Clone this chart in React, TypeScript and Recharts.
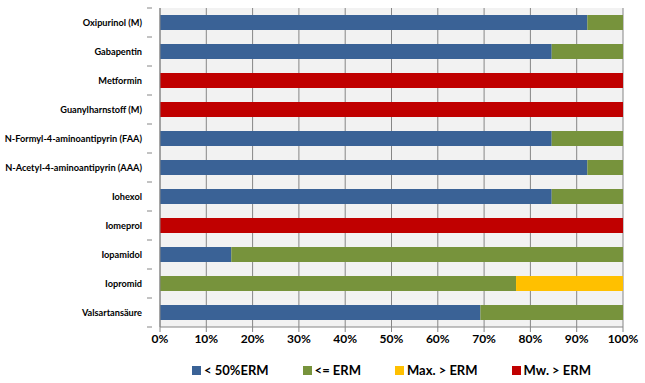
import React from 'react';
import { BarChart, Bar, XAxis, YAxis, CartesianGrid, Legend } from 'recharts';

const categories = [
  'Oxipurinol (M)',
  'Gabapentin',
  'Metformin',
  'Guanylharnstoff (M)',
  'N-Formyl-4-aminoantipyrin (FAA)',
  'N-Acetyl-4-aminoantipyrin (AAA)',
  'Iohexol',
  'Iomeprol',
  'Iopamidol',
  'Iopromid',
  'Valsartansäure',
];

// share of samples in each class (%)
const below50 = [92.3, 84.6, 0, 0, 84.6, 92.3, 84.6, 0, 15.4, 0, 69.2];
const belowErm = [7.7, 15.4, 0, 0, 15.4, 7.7, 15.4, 0, 84.6, 76.9, 30.8];
const maxAbove = [0, 0, 0, 0, 0, 0, 0, 0, 0, 23.1, 0];
const meanAbove = [0, 0, 100, 100, 0, 0, 0, 100, 0, 0, 0];

const xTicks = [0, 10, 20, 30, 40, 50, 60, 70, 80, 90, 100];

const SERIES = [
  { key: 'below50', name: '< 50%ERM', color: '#3A6296' },
  { key: 'belowErm', name: '<= ERM', color: '#77933C' },
  { key: 'maxAbove', name: 'Max. > ERM', color: '#FFC000' },
  { key: 'meanAbove', name: 'Mw. > ERM', color: '#C00000' },
];

const FONT = 'Lato, "Open Sans", sans-serif';
const W = 645;
const H = 383;
const MARGIN = { top: 8, right: 22, bottom: 0, left: 0 };
const Y_WIDTH = 160;
const X_HEIGHT = 30;
const LEGEND_H = 26;
const PLOT_H = H - MARGIN.top - MARGIN.bottom - X_HEIGHT - LEGEND_H;
const BAND = PLOT_H / categories.length;

const data = categories.map((name, i) => ({
  name,
  below50: below50[i],
  belowErm: belowErm[i],
  maxAbove: maxAbove[i],
  meanAbove: meanAbove[i],
}));

function CategoryTick(props: any) {
  const { x, y, payload, index } = props;
  const top = y - BAND / 2;
  const bottom = y + BAND / 2;
  return (
    <g>
      <line x1={x - 5} x2={x} y1={top} y2={top} stroke="#868686" />
      {index === categories.length - 1 && (
        <line x1={x - 5} x2={x} y1={bottom} y2={bottom} stroke="#868686" />
      )}
      <text
        x={x - 10}
        y={y}
        dy={3.5}
        textAnchor="end"
        fontFamily={FONT}
        fontWeight="bold"
        fontSize={9.2}
        fill="#000"
      >
        {payload.value}
      </text>
    </g>
  );
}

function LegendContent() {
  return (
    <div
      style={{
        display: 'flex',
        justifyContent: 'center',
        alignItems: 'center',
        height: LEGEND_H,
        fontFamily: FONT,
        fontWeight: 'bold',
        fontSize: 13,
        color: '#000',
      }}
    >
      {SERIES.map((s, i) => (
        <div
          key={s.key}
          style={{ display: 'flex', alignItems: 'center', marginLeft: i === 0 ? 0 : 34 }}
        >
          <span style={{ width: 9, height: 9, background: s.color, marginRight: 3 }} />
          <span>{s.name}</span>
        </div>
      ))}
    </div>
  );
}

export default function App() {
  return (
    <div style={{ position: 'absolute', left: 0, top: 0, width: W, height: H, background: '#fff' }}>
      <BarChart
        width={W}
        height={H}
        data={data}
        layout="vertical"
        margin={MARGIN}
        barSize={15}
      >
        <CartesianGrid
          horizontal={false}
          stroke="#868686"
          fill="#F2F2F2"
          verticalValues={xTicks}
        />
        <XAxis
          type="number"
          domain={[0, 100]}
          ticks={xTicks}
          height={X_HEIGHT}
          tickFormatter={(v: number) => `${v}%`}
          axisLine={{ stroke: '#868686' }}
          tickLine={{ stroke: '#868686' }}
          tickSize={5}
          tick={{ fontFamily: FONT, fontWeight: 'bold', fontSize: 12, fill: '#000' }}
          interval={0}
        />
        <XAxis
          xAxisId="top"
          orientation="top"
          type="number"
          domain={[0, 100]}
          height={0}
          tick={false}
          tickLine={false}
          axisLine={{ stroke: '#000', strokeWidth: 1.5 }}
        />
        <YAxis
          type="category"
          dataKey="name"
          width={Y_WIDTH}
          axisLine={{ stroke: '#868686' }}
          tickLine={false}
          tick={<CategoryTick />}
          interval={0}
        />
        <YAxis
          yAxisId="right"
          orientation="right"
          type="category"
          dataKey="name"
          width={0}
          tick={false}
          tickLine={false}
          axisLine={{ stroke: '#000', strokeWidth: 1.5 }}
        />
        <Legend
          verticalAlign="bottom"
          height={LEGEND_H}
          content={<LegendContent />}
          wrapperStyle={{ left: Y_WIDTH, width: W - Y_WIDTH - MARGIN.right }}
        />
        {SERIES.map((s) => (
          <Bar
            key={s.key}
            dataKey={s.key}
            name={s.name}
            stackId="a"
            fill={s.color}
            isAnimationActive={false}
          />
        ))}
      </BarChart>
    </div>
  );
}
